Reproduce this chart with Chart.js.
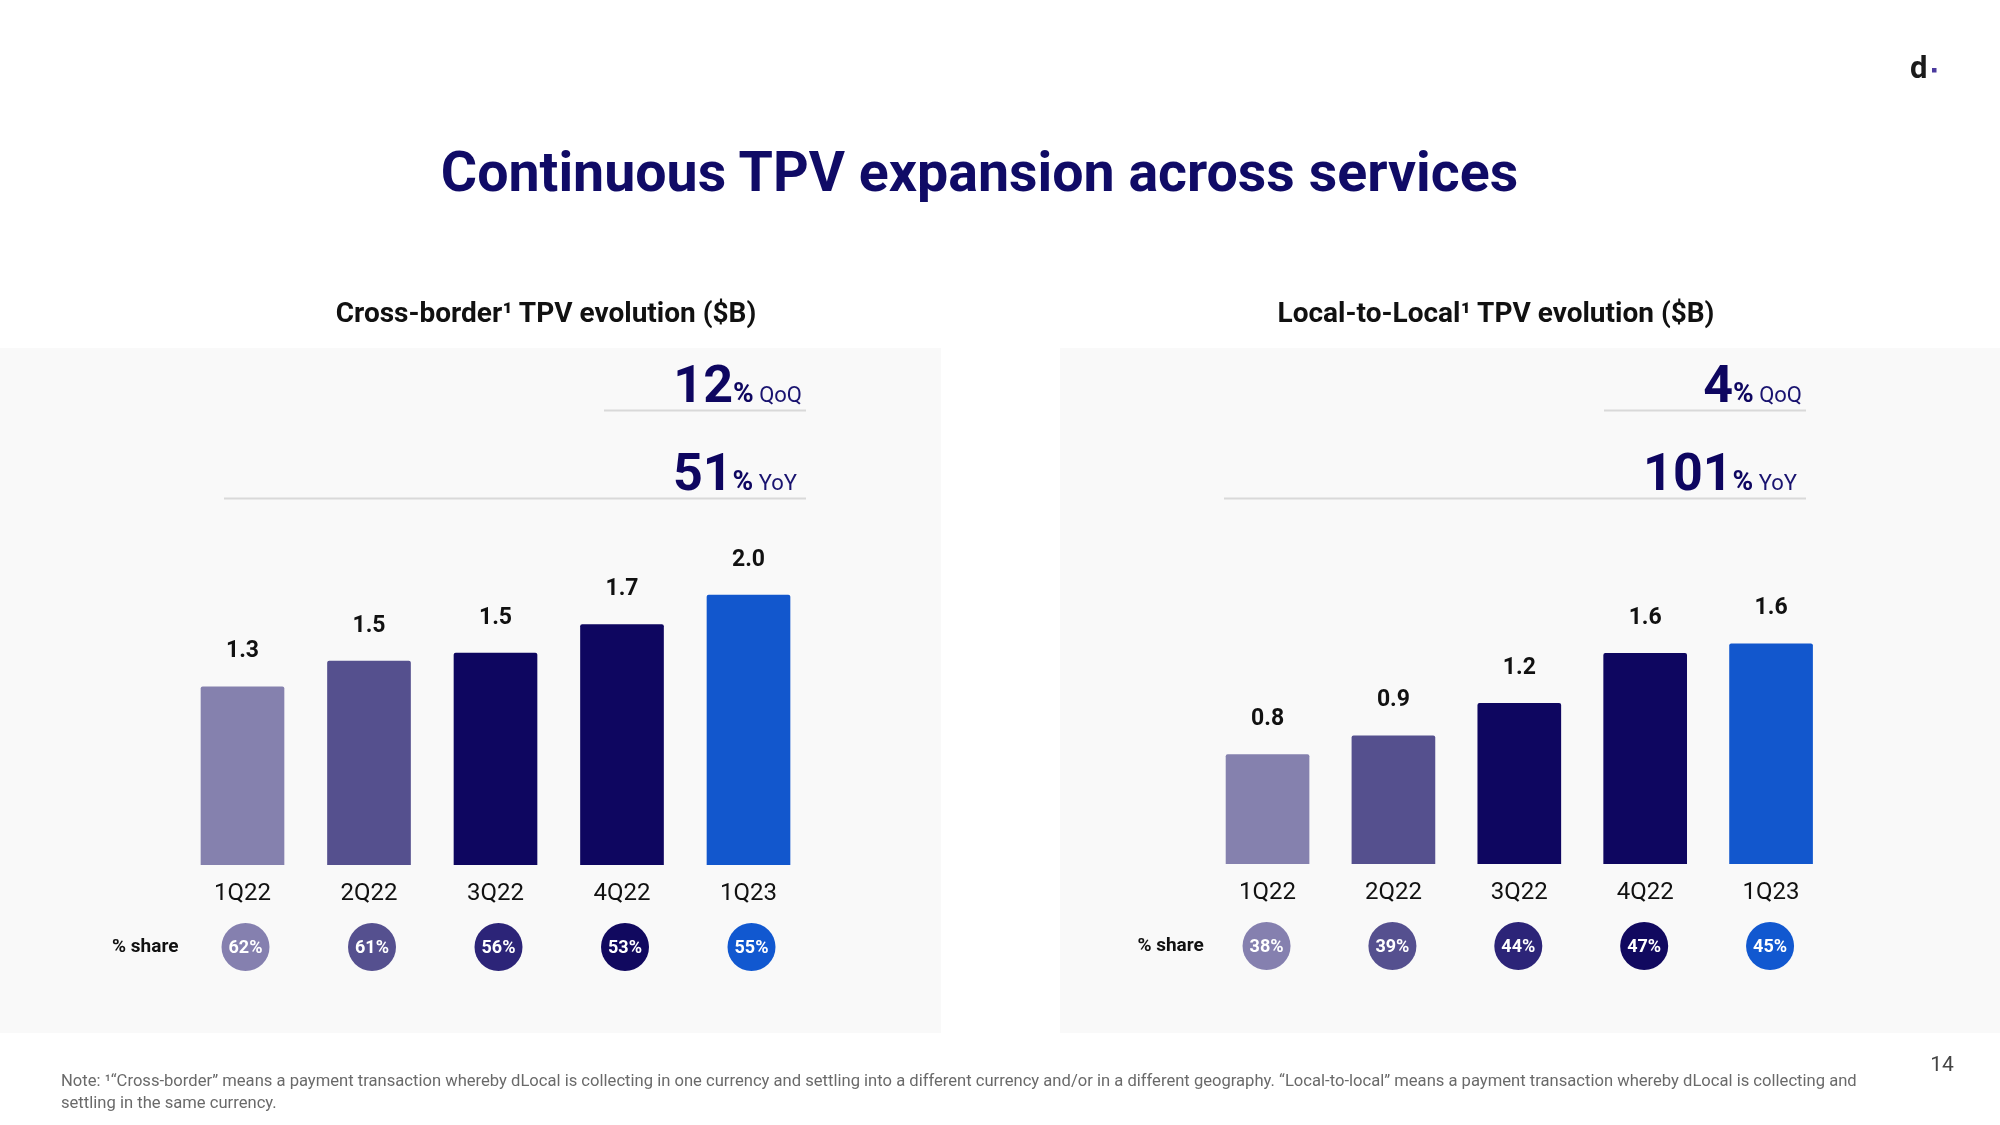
<!DOCTYPE html>
<html>
<head>
<meta charset="utf-8">
<script src="https://cdn.jsdelivr.net/npm/chart.js@4.4.0/dist/chart.umd.min.js"></script>
<style>
html,body{margin:0;padding:0;background:#fff;width:2000px;height:1125px;overflow:hidden;font-family:Roboto,'Noto Sans',sans-serif;}
.panel{position:absolute;background:#f9f9f9;}
#p1{left:0;top:348px;width:941px;height:685px;}
#p2{left:1060px;top:348px;width:940px;height:685px;}
canvas{display:block;}
svg{position:absolute;left:0;top:0;pointer-events:none;font-family:Roboto,'Noto Sans',sans-serif;}
</style>
</head>
<body>
<div class="panel" id="p1"><canvas id="c1" width="941" height="685"></canvas></div>
<div class="panel" id="p2"><canvas id="c2" width="940" height="685"></canvas></div>
<svg width="2000" height="1125" xmlns="http://www.w3.org/2000/svg">
  <text x="979.5" y="191" text-anchor="middle" font-weight="700" font-size="55.5" fill="#100b66">Continuous TPV expansion across services</text>
  <text x="546" y="322" text-anchor="middle" font-weight="700" font-size="28" fill="#111">Cross-border¹ TPV evolution ($B)</text>
  <text x="1496" y="322" text-anchor="middle" font-weight="700" font-size="28" fill="#111">Local-to-Local¹ TPV evolution ($B)</text>

  <text x="802" y="402" text-anchor="end" fill="#0e0660"><tspan font-size="52" font-weight="700">12</tspan><tspan font-size="28" font-weight="700">%</tspan><tspan font-size="22" fill="#1a1470"> QoQ</tspan></text>
  <line x1="604" y1="410.5" x2="806" y2="410.5" stroke="#d9d9d9" stroke-width="2"/>
  <text x="797" y="490" text-anchor="end" fill="#0e0660"><tspan font-size="52" font-weight="700">51</tspan><tspan font-size="28" font-weight="700">%</tspan><tspan font-size="22" fill="#1a1470"> YoY</tspan></text>
  <line x1="224" y1="498.5" x2="806" y2="498.5" stroke="#d9d9d9" stroke-width="2"/>

  <text x="1802" y="402" text-anchor="end" fill="#0e0660"><tspan font-size="52" font-weight="700">4</tspan><tspan font-size="28" font-weight="700">%</tspan><tspan font-size="22" fill="#1a1470"> QoQ</tspan></text>
  <line x1="1604" y1="410.5" x2="1806" y2="410.5" stroke="#d9d9d9" stroke-width="2"/>
  <text x="1797" y="490" text-anchor="end" fill="#0e0660"><tspan font-size="52" font-weight="700">101</tspan><tspan font-size="28" font-weight="700">%</tspan><tspan font-size="22" fill="#1a1470"> YoY</tspan></text>
  <line x1="1224" y1="498.5" x2="1806" y2="498.5" stroke="#d9d9d9" stroke-width="2"/>

  <text x="61" y="1086" font-size="16.6" fill="#6a6a6a">Note: ¹“Cross-border” means a payment transaction whereby dLocal is collecting in one currency and settling into a different currency and/or in a different geography. “Local-to-local” means a payment transaction whereby dLocal is collecting and</text>
  <text x="61" y="1108" font-size="16.6" fill="#6a6a6a">settling in the same currency.</text>
  <text x="1942" y="1071" text-anchor="middle" font-size="21" fill="#444">14</text>

  <text x="1910" y="78" font-size="31" font-weight="700" fill="#1b1b1b">d</text>
  <rect x="1932" y="68" width="4.5" height="4.5" fill="#4b3a9e"/>
</svg>
<script>
// ---- data ----
const categories = ['1Q22', '2Q22', '3Q22', '4Q22', '1Q23'];
const crossBorderValues = [1.32, 1.51, 1.57, 1.78, 2.00];
const crossBorderLabels = ['1.3', '1.5', '1.5', '1.7', '2.0'];
const crossBorderShare = ['62%', '61%', '56%', '53%', '55%'];
const localValues = [0.81, 0.95, 1.19, 1.56, 1.63];
const localLabels = ['0.8', '0.9', '1.2', '1.6', '1.6'];
const localShare = ['38%', '39%', '44%', '47%', '45%'];

// ---- styles ----
const barColors = ['#8581ae', '#55508e', '#0e0660', '#0e0660', '#1257cd'];
const shareColors = ['#8580af', '#55508f', '#2c2478', '#11095f', '#1158d0'];
const yMax = 2.4;
const pxPerUnit = 135;
const AXIS_H = 60;
const PANEL_H = 685;

const annot = {
  id: 'annot',
  afterDatasetsDraw(chart, args, opts) {
    const ctx = chart.ctx;
    const meta = chart.getDatasetMeta(0);
    const area = chart.chartArea;
    ctx.save();
    ctx.textAlign = 'center';
    ctx.font = 'bold 23px Roboto';
    ctx.fillStyle = '#111';
    ctx.textBaseline = 'alphabetic';
    meta.data.forEach((bar, i) => ctx.fillText(opts.labels[i], bar.x, bar.y - 29.5));
    const cy = area.bottom + 82;
    ctx.textBaseline = 'middle';
    ctx.font = 'bold 19px Roboto';
    ctx.fillStyle = '#111';
    ctx.fillText('% share', area.left - 34, cy);
    meta.data.forEach((bar, i) => {
      const cx = bar.x + opts.dx;
      ctx.beginPath();
      ctx.fillStyle = shareColors[i];
      ctx.arc(cx, cy, 24, 0, Math.PI * 2);
      ctx.fill();
      ctx.fillStyle = '#fff';
      ctx.font = 'bold 18px Roboto';
      ctx.fillText(opts.share[i], cx, cy + 1);
    });
    ctx.restore();
  }
};

function makeChart(id, values, labels, share, padL, padR, baseline, dx) {
  return new Chart(document.getElementById(id), {
    type: 'bar',
    data: {
      labels: categories,
      datasets: [{
        data: values,
        backgroundColor: barColors,
        borderRadius: 2,
        borderSkipped: 'bottom',
        barThickness: 83
      }]
    },
    options: {
      responsive: false,
      animation: false,
      devicePixelRatio: 1,
      layout: { padding: { left: padL, right: padR, top: baseline - yMax * pxPerUnit, bottom: PANEL_H - baseline - AXIS_H } },
      scales: {
        x: {
          grid: { display: false, drawTicks: false },
          border: { display: false },
          ticks: { font: { family: 'Roboto', size: 24 }, color: '#111', padding: 14.5 },
          afterFit(s) { s.height = AXIS_H; }
        },
        y: { display: false, min: 0, max: yMax }
      },
      plugins: {
        legend: { display: false },
        tooltip: { enabled: false },
        annot: { labels: labels, share: share, dx: dx }
      }
    },
    plugins: [annot]
  });
}

Promise.all([
  document.fonts.load('bold 22px Roboto'),
  document.fonts.load('24px Roboto')
]).catch(() => {}).then(() => {
  makeChart('c1', crossBorderValues, crossBorderLabels, crossBorderShare, 179.25, 129.25, 517, 3);
  makeChart('c2', localValues, localLabels, localShare, 144.6, 166, 516, -1);
});
</script>
</body>
</html>
